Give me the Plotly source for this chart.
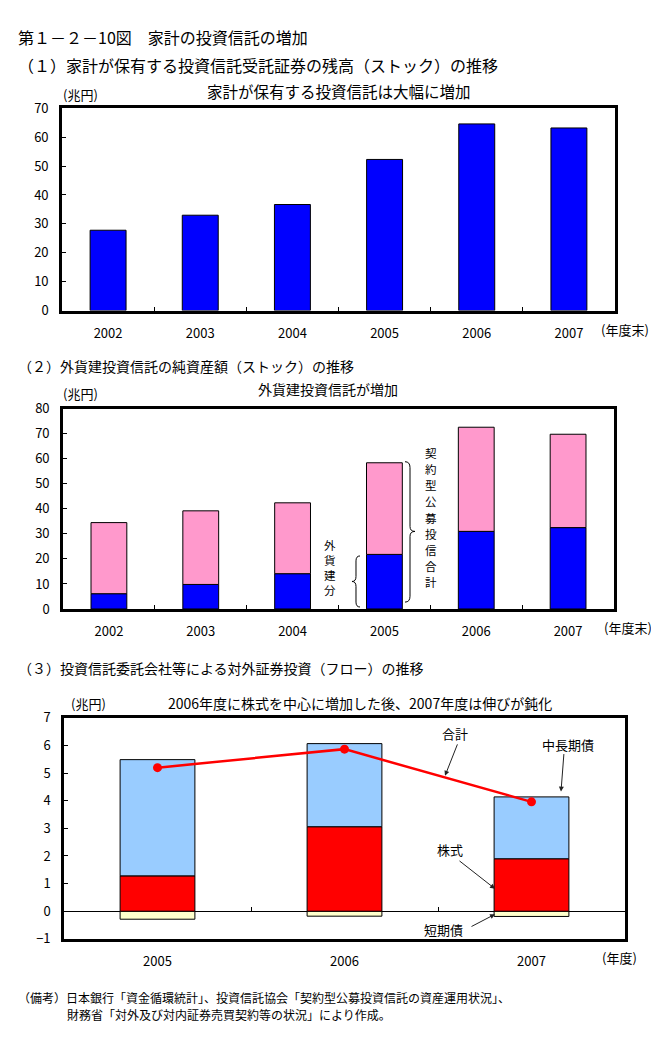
import plotly.graph_objects as go

W, H = 659, 1037
FONT = "Noto Sans CJK JP"

# ---------- data ----------
years1 = ["2002", "2003", "2004", "2005", "2006", "2007"]
household_inv_trust = [27.8, 33.0, 36.7, 52.3, 64.6, 63.2]

years2 = ["2002", "2003", "2004", "2005", "2006", "2007"]
public_trust_total = [34.5, 39.2, 42.4, 58.4, 72.6, 69.8]
foreign_currency = [6.1, 9.8, 14.1, 21.8, 31.0, 32.5]

years3 = ["2005", "2006", "2007"]
short_term_bonds = [-0.29, -0.18, -0.19]
stocks = [1.28, 3.06, 1.90]
mid_long_bonds = [4.21, 3.01, 2.24]
flow_total = [5.20, 5.87, 3.96]

label_foreign = "外貨建分"
label_public_total = "契約型公募投信合計"

def px(x):
    return x / W

def py(y):
    return 1 - y / H

fig = go.Figure()

# ---------- panel 1 ----------
fig.add_trace(go.Bar(x=years1, y=household_inv_trust, xaxis="x", yaxis="y",
                     marker=dict(color="#0000FF", line=dict(color="black", width=1)),
                     width=0.39, name="家計"))

# ---------- panel 2 ----------
pink = [t - f for t, f in zip(public_trust_total, foreign_currency)]
fig.add_trace(go.Bar(x=years2, y=foreign_currency, xaxis="x2", yaxis="y2",
                     marker=dict(color="#0000FF", line=dict(color="black", width=1)),
                     width=0.39, name=label_foreign))
fig.add_trace(go.Bar(x=years2, y=pink, xaxis="x2", yaxis="y2",
                     marker=dict(color="#FF99CC", line=dict(color="black", width=1)),
                     width=0.39, name=label_public_total))

# ---------- panel 3 ----------
fig.add_trace(go.Bar(x=years3, y=short_term_bonds, xaxis="x3", yaxis="y3",
                     marker=dict(color="#FFFFCC", line=dict(color="black", width=1)),
                     width=0.4, name="短期債"))
fig.add_trace(go.Bar(x=years3, y=stocks, xaxis="x3", yaxis="y3",
                     marker=dict(color="#FF0000", line=dict(color="black", width=1)),
                     width=0.4, name="株式"))
fig.add_trace(go.Bar(x=years3, y=mid_long_bonds, xaxis="x3", yaxis="y3",
                     marker=dict(color="#99CCFF", line=dict(color="black", width=1)),
                     width=0.4, name="中長期債"))
fig.add_trace(go.Scatter(x=years3, y=flow_total, xaxis="x3", yaxis="y3",
                         mode="lines+markers",
                         line=dict(color="#FF0000", width=2.5),
                         marker=dict(color="#FF0000", size=9, symbol="circle"),
                         name="合計"))
# dummy trace for the tick axis on the zero line
fig.add_trace(go.Scatter(x=[None], y=[None], xaxis="x4", yaxis="y3",
                         mode="markers", showlegend=False, hoverinfo="skip"))

BW = 2.6
tickfont = dict(family=FONT, size=13, color="black")

def xcat(domain):
    return dict(domain=domain, type="category", showline=True, linecolor="black",
                linewidth=BW, mirror=True, ticks="inside", ticklen=4, tickwidth=1,
                tickcolor="black", tickson="boundaries", showgrid=False,
                tickfont=tickfont, ticklabelstandoff=9, fixedrange=True)

def yax(domain, rng, dtick):
    return dict(domain=domain, range=rng, dtick=dtick, showline=True, linecolor="black",
                linewidth=BW, mirror=True, ticks="inside", ticklen=4, tickwidth=1,
                tickcolor="black", showgrid=False, zeroline=False,
                tickfont=tickfont, ticklabelstandoff=8, fixedrange=True)

x1 = xcat([px(54), px(607)])
x1["anchor"] = "y"
y1 = yax([py(298), py(92)], [0, 70], 10)
y1["anchor"] = "x"

x2 = xcat([px(55), px(606)])
x2["anchor"] = "y2"
y2 = yax([py(602), py(398)], [0, 80], 10)
y2["anchor"] = "x2"

x3 = xcat([px(56), px(617)])
x3["anchor"] = "y3"
x3["ticks"] = ""
y3 = yax([py(938), py(713)], [-1, 7], 1)
y3["anchor"] = "x3"
y3["zeroline"] = True
y3["zerolinecolor"] = "black"
y3["zerolinewidth"] = 1

x4 = dict(overlaying="x3", anchor="free", position=py(910), type="linear",
          range=[-0.5, 2.5], tickvals=[0.5, 1.5], ticks="inside", ticklen=4,
          tickwidth=1, tickcolor="black", showticklabels=False, showline=False,
          showgrid=False, zeroline=False, fixedrange=True)

fig.update_layout(
    width=W, height=H, margin=dict(l=0, r=0, t=0, b=0),
    paper_bgcolor="white", plot_bgcolor="white",
    showlegend=False, barmode="relative",
    font=dict(family=FONT, size=13, color="black"),
    xaxis=x1, yaxis=y1, xaxis2=x2, yaxis2=y2, xaxis3=x3, yaxis3=y3, xaxis4=x4,
)

ann = []

def text(t, x, y, size=13, xanchor="center", yanchor="middle", pad=1):
    ann.append(dict(text=t, x=px(x), y=py(y), xref="paper", yref="paper",
                    xanchor=xanchor, yanchor=yanchor, showarrow=False, borderpad=pad,
                    font=dict(family=FONT, size=size, color="black")))

def vtext(t, x, y_first, step, size=12):
    for i, ch in enumerate(t):
        text(ch, x, y_first + i * step, size=size, pad=0)

def arrow(tail, head):
    ann.append(dict(text="", x=px(head[0]), y=py(head[1]), xref="paper", yref="paper",
                    ax=tail[0] - head[0], ay=tail[1] - head[1], axref="pixel", ayref="pixel",
                    showarrow=True, arrowhead=2, arrowsize=1, arrowwidth=1,
                    arrowcolor="#222222", standoff=0, startstandoff=0))

text("第１－２－10図　家計の投資信託の増加", 8, 19, size=16, xanchor="left")
text("（１）家計が保有する投資信託受託証券の残高（ストック）の推移", 8, 48, size=16, xanchor="left")
text("(兆円)", 72, 78)
text("家計が保有する投資信託は大幅に増加", 331, 74, size=15.5)
text("(年度末)", 617, 317)

text("（２）外貨建投資信託の純資産額（ストック）の推移", 8, 354, size=14, xanchor="left")
text("(兆円)", 72, 382)
text("外貨建投資信託が増加", 320, 378, size=14)
text("(年度末)", 620, 621)
vtext(label_foreign, 322, 537, 15.3, size=11.5)
vtext(label_public_total, 423, 443, 16.5, size=11.5)

text("（３）投資信託委託会社等による対外証券投資（フロー）の推移", 8, 662, size=14, xanchor="left")
text("(兆円)", 80, 698)
text("2006年度に株式を中心に増加した後、2007年度は伸びが鈍化", 158, 698, size=14, xanchor="left")
text("(年度)", 611, 957)

text("合計", 447, 729)
arrow((450, 739), (437, 772))
text("中長期債", 560, 740)
arrow((556, 749), (553, 788))
text("株式", 442, 847)
arrow((450, 858), (487, 887))
text("短期債", 435, 929)
arrow((462, 926), (487, 913))

text("（備考）日本銀行「資金循環統計」、投資信託協会「契約型公募投資信託の資産運用状況」、", 8, 998, size=12, xanchor="left")
text("財務省「対外及び対内証券売買契約等の状況」により作成。", 57, 1015, size=12, xanchor="left")

fig.update_layout(annotations=ann)

def brace_path(points):
    parts = []
    for cmd, coords in points:
        c = " ".join(f"{px(x):.5f},{py(y):.5f}" for x, y in coords)
        parts.append(f"{cmd} {c}")
    return " ".join(parts)

left_brace = brace_path([
    ("M", [(352, 548)]), ("Q", [(348, 548), (348, 553)]), ("L", [(348, 569)]),
    ("Q", [(348, 574), (344, 574)]), ("Q", [(348, 574), (348, 579)]),
    ("L", [(348, 595)]), ("Q", [(348, 600), (352, 600)]),
])
right_brace = brace_path([
    ("M", [(397, 452)]), ("Q", [(402, 452), (402, 458)]), ("L", [(402, 518)]),
    ("Q", [(402, 523), (407, 523)]), ("Q", [(402, 523), (402, 528)]),
    ("L", [(402, 589)]), ("Q", [(402, 595), (397, 595)]),
])
fig.update_layout(shapes=[
    dict(type="path", path=left_brace, xref="paper", yref="paper",
         line=dict(color="black", width=1)),
    dict(type="path", path=right_brace, xref="paper", yref="paper",
         line=dict(color="black", width=1)),
])

fig.write_html("out.html")
